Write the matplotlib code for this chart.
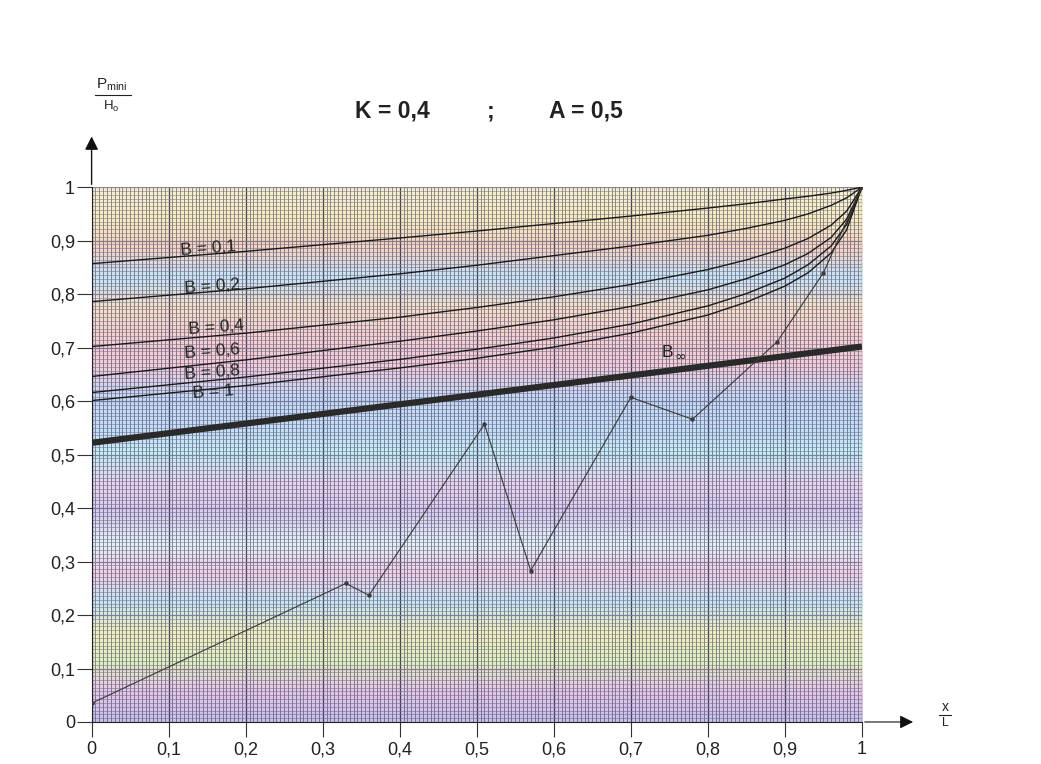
import numpy as np
import matplotlib.pyplot as plt
from matplotlib.colors import LinearSegmentedColormap, to_rgb

plt.rcParams['font.family'] = ['Liberation Sans', 'DejaVu Sans']

# abscissa x/L where the B curves were read
x_pts = [0.0, 0.2, 0.4, 0.5, 0.6, 0.7, 0.8, 0.85, 0.9, 0.93, 0.96, 0.98, 1.0]
b01 = [0.857, 0.880, 0.905, 0.918, 0.932, 0.946, 0.961, 0.969, 0.978, 0.983, 0.989, 0.994, 1.0]
b02 = [0.786, 0.810, 0.838, 0.854, 0.872, 0.890, 0.910, 0.923, 0.938, 0.950, 0.966, 0.980, 1.0]
b04 = [0.702, 0.727, 0.757, 0.775, 0.795, 0.818, 0.846, 0.864, 0.886, 0.904, 0.929, 0.955, 1.0]
b06 = [0.646, 0.677, 0.712, 0.731, 0.752, 0.777, 0.808, 0.829, 0.855, 0.876, 0.906, 0.940, 1.0]
b08 = [0.616, 0.645, 0.678, 0.697, 0.718, 0.744, 0.778, 0.801, 0.830, 0.855, 0.890, 0.930, 1.0]
b1 = [0.601, 0.629, 0.662, 0.680, 0.701, 0.727, 0.761, 0.785, 0.815, 0.840, 0.877, 0.920, 1.0]
b_labels = ['B = 0,1', 'B = 0,2', 'B = 0,4', 'B = 0,6', 'B = 0,8', 'B = 1']
label_pos = [(0.115, 0.873), (0.12, 0.803), (0.125, 0.725), (0.12, 0.68), (0.12, 0.642), (0.13, 0.606)]

# B infinite (thick straight line)
binf_x = [0.0, 1.0]
binf_y = [0.522, 0.702]

# measured profile
prof_x = [0.0, 0.33, 0.36, 0.51, 0.57, 0.70, 0.78, 0.89, 0.95, 1.0]
prof_y = [0.035, 0.259, 0.237, 0.557, 0.283, 0.607, 0.566, 0.711, 0.84, 1.0]

ticks = [0.0, 0.1, 0.2, 0.3, 0.4, 0.5, 0.6, 0.7, 0.8, 0.9, 1.0]
tick_labels = ['0', '0,1', '0,2', '0,3', '0,4', '0,5', '0,6', '0,7', '0,8', '0,9', '1']

# scanned graph paper tint, bottom -> top
band_colors = ['#c9c2ea', '#e6c8e6', '#e2f0c0', '#f2eec0', '#c8e6f2', '#f0d0e4',
               '#e4f2f6', '#d8ccec', '#e8d4ec', '#c8ecf4', '#c4dcf4', '#c8d8f2',
               '#f2ccd8', '#f4d0d0', '#f6e0c8', '#c8e4f4', '#f4d4c4', '#f8ecc0', '#f6f0d0']
tint = LinearSegmentedColormap.from_list('tint', band_colors)

fig = plt.figure(figsize=(10.41, 7.64), dpi=100)
ax = fig.add_axes([0.088, 0.055, 0.740, 0.700])
ax.set_xlim(0, 1)
ax.set_ylim(0, 1)

ax.imshow(np.linspace(0, 1, 300).reshape(-1, 1), cmap=tint, origin='lower',
          extent=[0, 1, 0, 1], aspect='auto', interpolation='bilinear', zorder=0)

# millimetre paper
navy = np.array(to_rgb('#2a2a55'))
gx = np.arange(0, 201) * 0.005
for i, x in enumerate(gx):
    major = i % 20 == 0
    ax.axvline(x, color='#2f2f50', lw=0.9 if major else 0.6,
               alpha=0.9 if major else 0.62, zorder=1)
gy = np.arange(0, 141) / 140
for j, y in enumerate(gy):
    c = 0.45 * np.array(tint(y)[:3]) + 0.55 * navy
    major = j % 14 == 0
    ax.axhline(y, color=c, lw=0.9 if major else 0.6,
               alpha=0.95 if major else 0.7, zorder=1)

for yv, lab, (lx, ly) in zip([b01, b02, b04, b06, b08, b1], b_labels, label_pos):
    ax.plot(x_pts, yv, color='#1a1a1a', lw=1.0, zorder=3)
    ax.text(lx, ly, lab, fontsize=12.5, color='#222222', rotation=4, zorder=4)

ax.plot(binf_x, binf_y, color='#2a2a2a', lw=4.5, solid_capstyle='butt', zorder=3)
ax.text(0.74, 0.683, 'B', fontsize=12.5, color='#222222', zorder=4)
ax.text(0.756, 0.676, r'$\infty$', fontsize=10, color='#222222', zorder=4)

ax.plot(prof_x, prof_y, color='#3a3a3a', lw=0.8, marker='o', ms=2.2, zorder=3)

for s in ['top', 'right']:
    ax.spines[s].set_visible(False)
ax.spines['left'].set_color('#222222')
ax.spines['bottom'].set_color('#222222')
ax.set_xticks(ticks)
ax.set_xticklabels(tick_labels)
ax.set_yticks(ticks)
ax.set_yticklabels(tick_labels)
ax.tick_params(length=11, width=0.8, color='#333333', labelsize=13,
               labelcolor='#222222')
ax.tick_params(axis='y', pad=1)
ax.tick_params(axis='x', pad=3)

# axis arrows
ax.annotate('', xy=(0, 1.10), xytext=(0, 1.0), xycoords='data',
            arrowprops=dict(arrowstyle='-|>', color='#111111', lw=1.0,
                            mutation_scale=20), annotation_clip=False)
ax.annotate('', xy=(1.07, 0), xytext=(1.0, 0), xycoords='data',
            arrowprops=dict(arrowstyle='-|>', color='#111111', lw=0.8,
                            mutation_scale=20), annotation_clip=False)

# title in three pieces, as spaced on the sheet
fig.text(0.377, 0.855, 'K = 0,4', fontsize=16.5, fontweight='bold',
         ha='center', va='center', color='#222222')
fig.text(0.471, 0.855, ';', fontsize=16.5, fontweight='bold',
         ha='center', va='center', color='#222222')
fig.text(0.563, 0.855, 'A = 0,5', fontsize=16.5, fontweight='bold',
         ha='center', va='center', color='#222222')

# y axis label P_mini / H_o
fig.text(0.107, 0.878, r'P$_{\mathregular{mini}}$', fontsize=11, ha='center',
         va='bottom', color='#222222')
fig.add_artist(plt.Line2D([0.091, 0.126], [0.876, 0.876], color='#222222', lw=0.8))
fig.text(0.107, 0.870, r'H$_{\mathregular{o}}$', fontsize=9.5, ha='center',
         va='top', color='#222222')

# x axis label x / L
fig.text(0.908, 0.065, 'x', fontsize=10, ha='center', va='bottom', color='#222222')
fig.add_artist(plt.Line2D([0.902, 0.914], [0.064, 0.064], color='#222222', lw=0.8))
fig.text(0.908, 0.062, 'L', fontsize=9, ha='center', va='top', color='#222222')

fig.savefig('out.png', dpi=100)
